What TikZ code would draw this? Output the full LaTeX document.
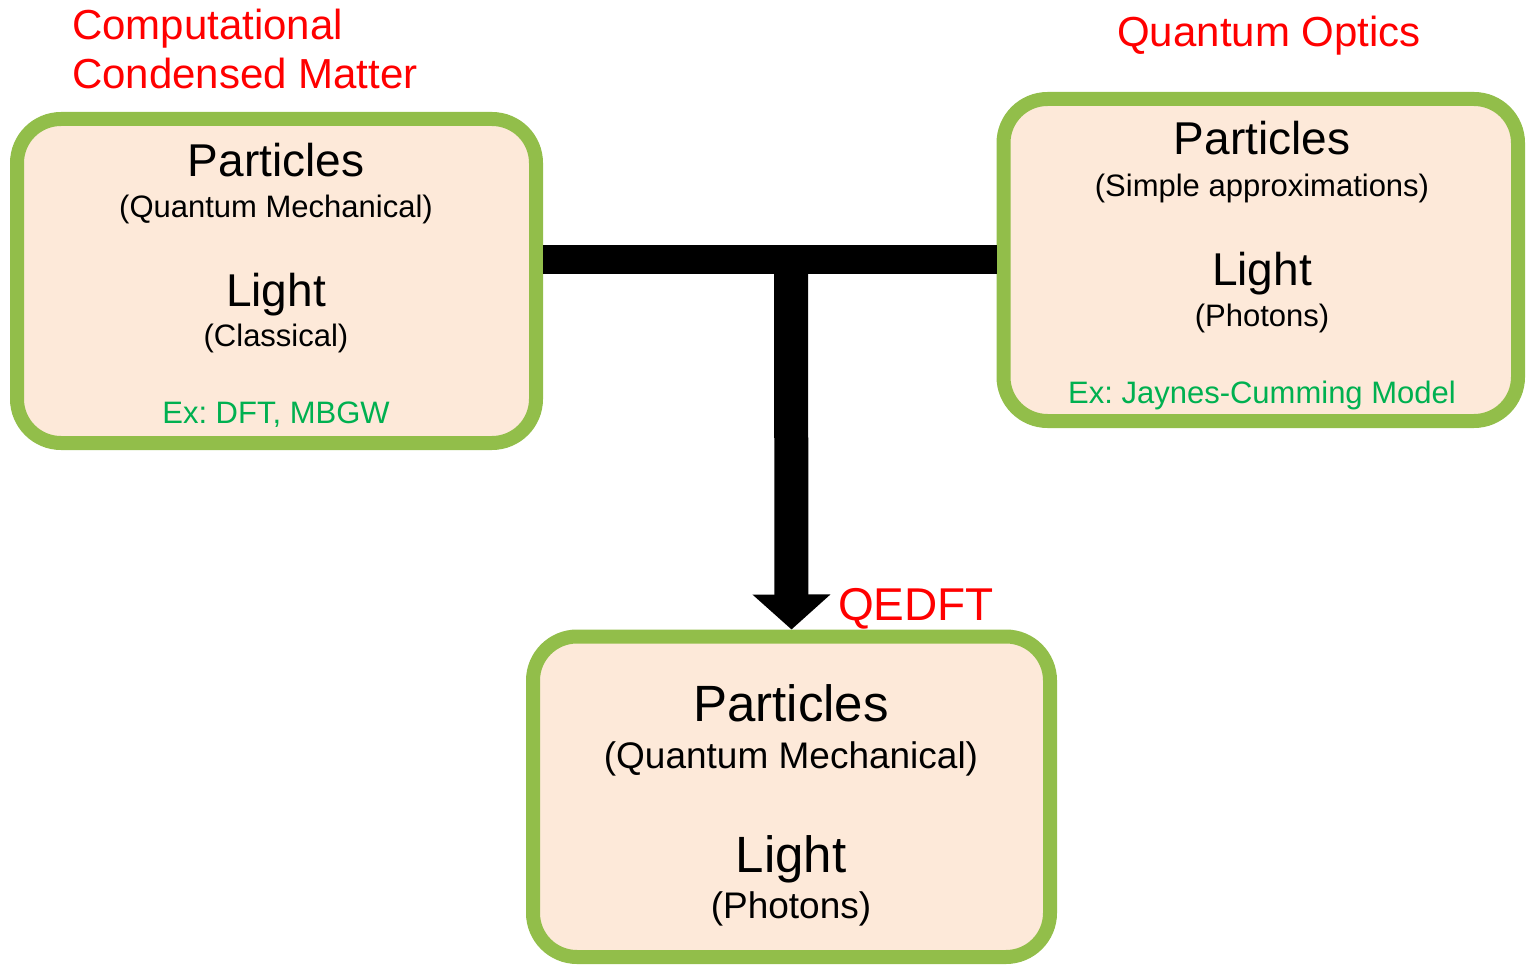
\documentclass[tikz,border=0pt]{standalone}
\usepackage{fontspec}
\setmainfont{Liberation Sans}
\usetikzlibrary{arrows.meta}
\frenchspacing
\definecolor{boxgreen}{RGB}{146,190,74}
\definecolor{boxfill}{RGB}{253,233,217}
\definecolor{exgreen}{RGB}{0,176,80}
\definecolor{titlered}{RGB}{255,0,0}
\tikzset{
  panel/.style={draw=boxgreen, line width=14pt, fill=boxfill, rounded corners=44pt, inner sep=0pt},
  txt/.style={inner sep=0pt, anchor=base},
  big/.style={txt, font=\fontsize{46}{50}\selectfont},
  small/.style={txt, font=\fontsize{31}{35}\selectfont},
  bigb/.style={txt, font=\fontsize{51}{55}\selectfont},
  smallb/.style={txt, font=\fontsize{37}{41}\selectfont},
  extext/.style={txt, font=\fontsize{31}{35}\selectfont, text=exgreen},
  heading/.style={txt, font=\fontsize{42}{46}\selectfont, text=titlered},
  conn/.style={line width=29pt, draw=black},
  stem/.style={line width=34pt, draw=black, -{Triangle[width=76pt,length=35pt]}}
}
\begin{document}
\begin{tikzpicture}[x=1pt,y=-1pt]
\useasboundingbox (0,0) rectangle (1526,965);
\coordinate (j) at (791,260);
% boxes
\node[panel, minimum width=519pt, minimum height=324pt] (left) at (276.5,281) {};
\node[panel, minimum width=514.5pt, minimum height=322pt] (right) at (1260.75,260) {};
\node[panel, minimum width=517pt, minimum height=320.5pt] (bot) at (791.5,796.75) {};
% connectors
\draw[conn] (left.east |- j) -- (right.west |- j);
\draw[stem] (j) -- (bot.north);
% headings
\node[heading, anchor=base west] (h1) at (72,40) {Computational};
\node[heading, anchor=base west] (h2) at (72,89) {Condensed Matter};
\node[heading] (h3) at (1269,47) {Quantum Optics};
\node[txt, font=\fontsize{46}{50}\selectfont, text=titlered, anchor=base west] (q) at (838,620) {QEDFT};
% left box
\node[big] (lp) at (276,177) {Particles};
\node[small] (lpq) at (276,218) {(Quantum Mechanical)};
\node[big] (ll) at (276,307) {Light};
\node[small] (llc) at (276,347) {(Classical)};
\node[extext] (lex) at (276,424) {Ex: DFT, MBGW};
% right box
\node[big] (rp) at (1262,155) {Particles};
\node[small] (rps) at (1262,197) {(Simple approximations)};
\node[big] (rl) at (1262,286) {Light};
\node[small] (rlp) at (1262,327) {(Photons)};
\node[extext] (rex) at (1262,403) {Ex: Jaynes-Cumming Model};
% bottom box
\node[bigb] (bp) at (791,721) {Particles};
\node[smallb] (bpq) at (791,768) {(Quantum Mechanical)};
\node[bigb] (bl) at (791,872) {Light};
\node[smallb] (blp) at (791,918) {(Photons)};
\end{tikzpicture}
\end{document}
